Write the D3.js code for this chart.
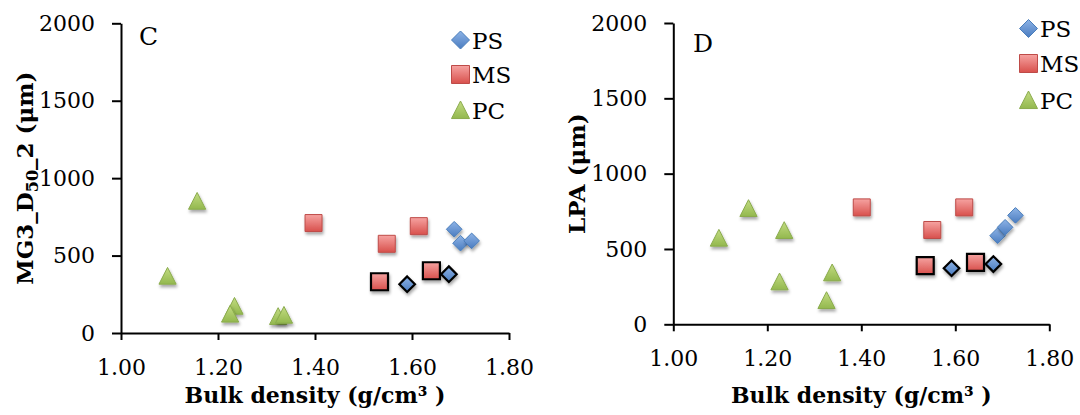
<!DOCTYPE html>
<html>
<head>
<meta charset="utf-8">
<script src="https://cdn.jsdelivr.net/npm/d3@7"></script>
<style>
  body { margin: 0; background: #fff; }
  text { font-family: "DejaVu Serif", serif; fill: #000; }
  .tick text { font-size: 22px; font-family: "DejaVu Serif", serif; }
  .axis-title { font-weight: bold; }
</style>
</head>
<body>
<svg id="chart" width="1080" height="415"></svg>
<script>
  // series + ticks
  const seriesNames = ['PS', 'MS', 'PC'];
  const xTicks = [1.0, 1.2, 1.4, 1.6, 1.8];
  const yTicks = [0, 500, 1000, 1500, 2000];

  // panel C : MG3_D50_2 (um) vs bulk density
  const cPS = [[1.687, 670], [1.700, 580], [1.723, 595]];
  const cPSMarked = [[1.590, 315], [1.676, 380]];
  const cMS = [[1.397, 710], [1.548, 576], [1.614, 690]];
  const cMSMarked = [[1.533, 331], [1.640, 402]];
  const cPC = [[1.096, 368], [1.157, 852], [1.234, 174], [1.225, 123], [1.324, 108], [1.336, 116]];

  // panel D : LPA (um) vs bulk density
  const dPS = [[1.690, 588], [1.706, 644], [1.728, 723]];
  const dPSMarked = [[1.592, 372], [1.681, 400]];
  const dMS = [[1.401, 776], [1.551, 626], [1.619, 776]];
  const dMSMarked = [[1.536, 389], [1.643, 411]];
  const dPC = [[1.097, 573], [1.160, 770], [1.236, 624], [1.226, 283], [1.326, 159], [1.338, 343]];

  const svg = d3.select('#chart');
  const defs = svg.append('defs');

  const styles = {
    PS: { top: '#8db3e6', bottom: '#4a7cc0', stroke: '#4a7ebb' },
    MS: { top: '#f6a3a1', bottom: '#d8504c', stroke: '#be4b48' },
    PC: { top: '#c3dc82', bottom: '#93b84e', stroke: '#8aab4c' }
  };

  seriesNames.forEach(name => {
    const g = defs.append('linearGradient')
      .attr('id', 'grad' + name)
      .attr('x1', 0).attr('y1', 0).attr('x2', 0).attr('y2', 1);
    g.append('stop').attr('offset', '0%').attr('stop-color', styles[name].top);
    g.append('stop').attr('offset', '100%').attr('stop-color', styles[name].bottom);
  });

  defs.append('filter').attr('id', 'shadow')
    .attr('x', '-50%').attr('y', '-50%').attr('width', '200%').attr('height', '200%')
    .append('feDropShadow')
    .attr('dx', 1).attr('dy', 2.5).attr('stdDeviation', 1.6)
    .attr('flood-color', '#000').attr('flood-opacity', 0.35);

  const shapes = {
    PS: s => `M0,${-s}L${s},0L0,${s}L${-s},0Z`,
    MS: s => `M${-s},${-s}H${s}V${s}H${-s}Z`,
    PC: s => `M0,${-s}L${s},${s * 0.95}L${-s},${s * 0.95}Z`
  };
  const sizes = { PS: 7.8, MS: 8.5, PC: 8.6 };

  function drawPanel(p) {
    const x = d3.scaleLinear().domain([1.0, 1.8]).range([p.left, p.right]);
    const y = d3.scaleLinear().domain([0, 2000]).range([p.bottom, p.top]);
    const g = svg.append('g');

    const xAxis = g.append('g')
      .attr('transform', `translate(0,${p.bottom})`)
      .call(d3.axisBottom(x).tickValues(xTicks).tickFormat(d3.format('.2f'))
        .tickSize(7).tickSizeOuter(0).tickPadding(19));
    const yAxis = g.append('g')
      .attr('transform', `translate(${p.left},0)`)
      .call(d3.axisLeft(y).tickValues(yTicks).tickFormat(d3.format('d'))
        .tickSize(9).tickSizeOuter(0).tickPadding(17));

    [xAxis, yAxis].forEach(a => {
      a.attr('font-size', null).attr('font-family', null);
      a.select('.domain').attr('stroke', '#000').attr('stroke-width', 2);
      a.selectAll('.tick line').attr('stroke', '#000').attr('stroke-width', 2);
      a.selectAll('.tick text').attr('fill', '#000');
    });

    g.append('text').attr('class', 'axis-title')
      .attr('x', (p.left + p.right) / 2).attr('y', 403)
      .attr('text-anchor', 'middle').attr('font-size', '22px')
      .text('Bulk density (g/cm³ )');

    const yt = g.append('text').attr('class', 'axis-title')
      .attr('font-size', '23px')
      .attr('transform', `translate(${p.yTitleX},${(p.top + p.bottom) / 2}) rotate(-90)`)
      .attr('text-anchor', 'middle');
    p.yTitle.forEach(part => {
      const t = yt.append('tspan').text(part.t);
      if (part.sub) t.attr('font-size', '16px').attr('dy', 5);
      else if (part.after) t.attr('dy', -5);
    });

    g.append('text').attr('x', p.labelX).attr('y', p.labelY)
      .attr('font-size', '25px').text(p.label);

    // points
    p.series.forEach(s => {
      const pts = g.append('g');
      pts.selectAll('path.plain').data(s.plain).join('path')
        .attr('class', 'plain')
        .attr('d', shapes[s.name](sizes[s.name]))
        .attr('transform', d => `translate(${x(d[0])},${y(d[1])})`)
        .attr('fill', `url(#grad${s.name})`)
        .attr('stroke', styles[s.name].stroke).attr('stroke-width', 1)
        .attr('filter', 'url(#shadow)');
      pts.selectAll('path.marked').data(s.marked || []).join('path')
        .attr('class', 'marked')
        .attr('d', shapes[s.name](sizes[s.name]))
        .attr('transform', d => `translate(${x(d[0])},${y(d[1])})`)
        .attr('fill', `url(#grad${s.name})`)
        .attr('stroke', '#000').attr('stroke-width', 2.2)
        .attr('filter', 'url(#shadow)');
    });

    // legend
    const lg = g.append('g');
    seriesNames.forEach((name, i) => {
      lg.append('path')
        .attr('d', shapes[name](9))
        .attr('transform', `translate(${p.legendX},${p.legendY[i]})`)
        .attr('fill', `url(#grad${name})`)
        .attr('stroke', styles[name].stroke).attr('stroke-width', 1);
      lg.append('text')
        .attr('x', p.legendX + 11.5).attr('y', p.legendY[i] + 8.5)
        .attr('font-size', '23px').text(name);
    });
  }

  drawPanel({
    left: 121, right: 509, top: 23.3, bottom: 333,
    label: 'C', labelX: 139, labelY: 45,
    yTitleX: 33,
    yTitle: [{ t: 'MG3_D' }, { t: '50', sub: true }, { t: '_2 (μm)', after: true }],
    legendX: 460.5, legendY: [40, 74.5, 110],
    series: [
      { name: 'PS', plain: cPS, marked: cPSMarked },
      { name: 'MS', plain: cMS, marked: cMSMarked },
      { name: 'PC', plain: cPC }
    ]
  });

  drawPanel({
    left: 673.3, right: 1049.3, top: 23, bottom: 324.3,
    label: 'D', labelX: 693, labelY: 52,
    yTitleX: 585,
    yTitle: [{ t: 'LPA (μm)' }],
    legendX: 1028.5, legendY: [28.5, 63.5, 100],
    series: [
      { name: 'PS', plain: dPS, marked: dPSMarked },
      { name: 'MS', plain: dMS, marked: dMSMarked },
      { name: 'PC', plain: dPC }
    ]
  });
</script>
</body>
</html>
